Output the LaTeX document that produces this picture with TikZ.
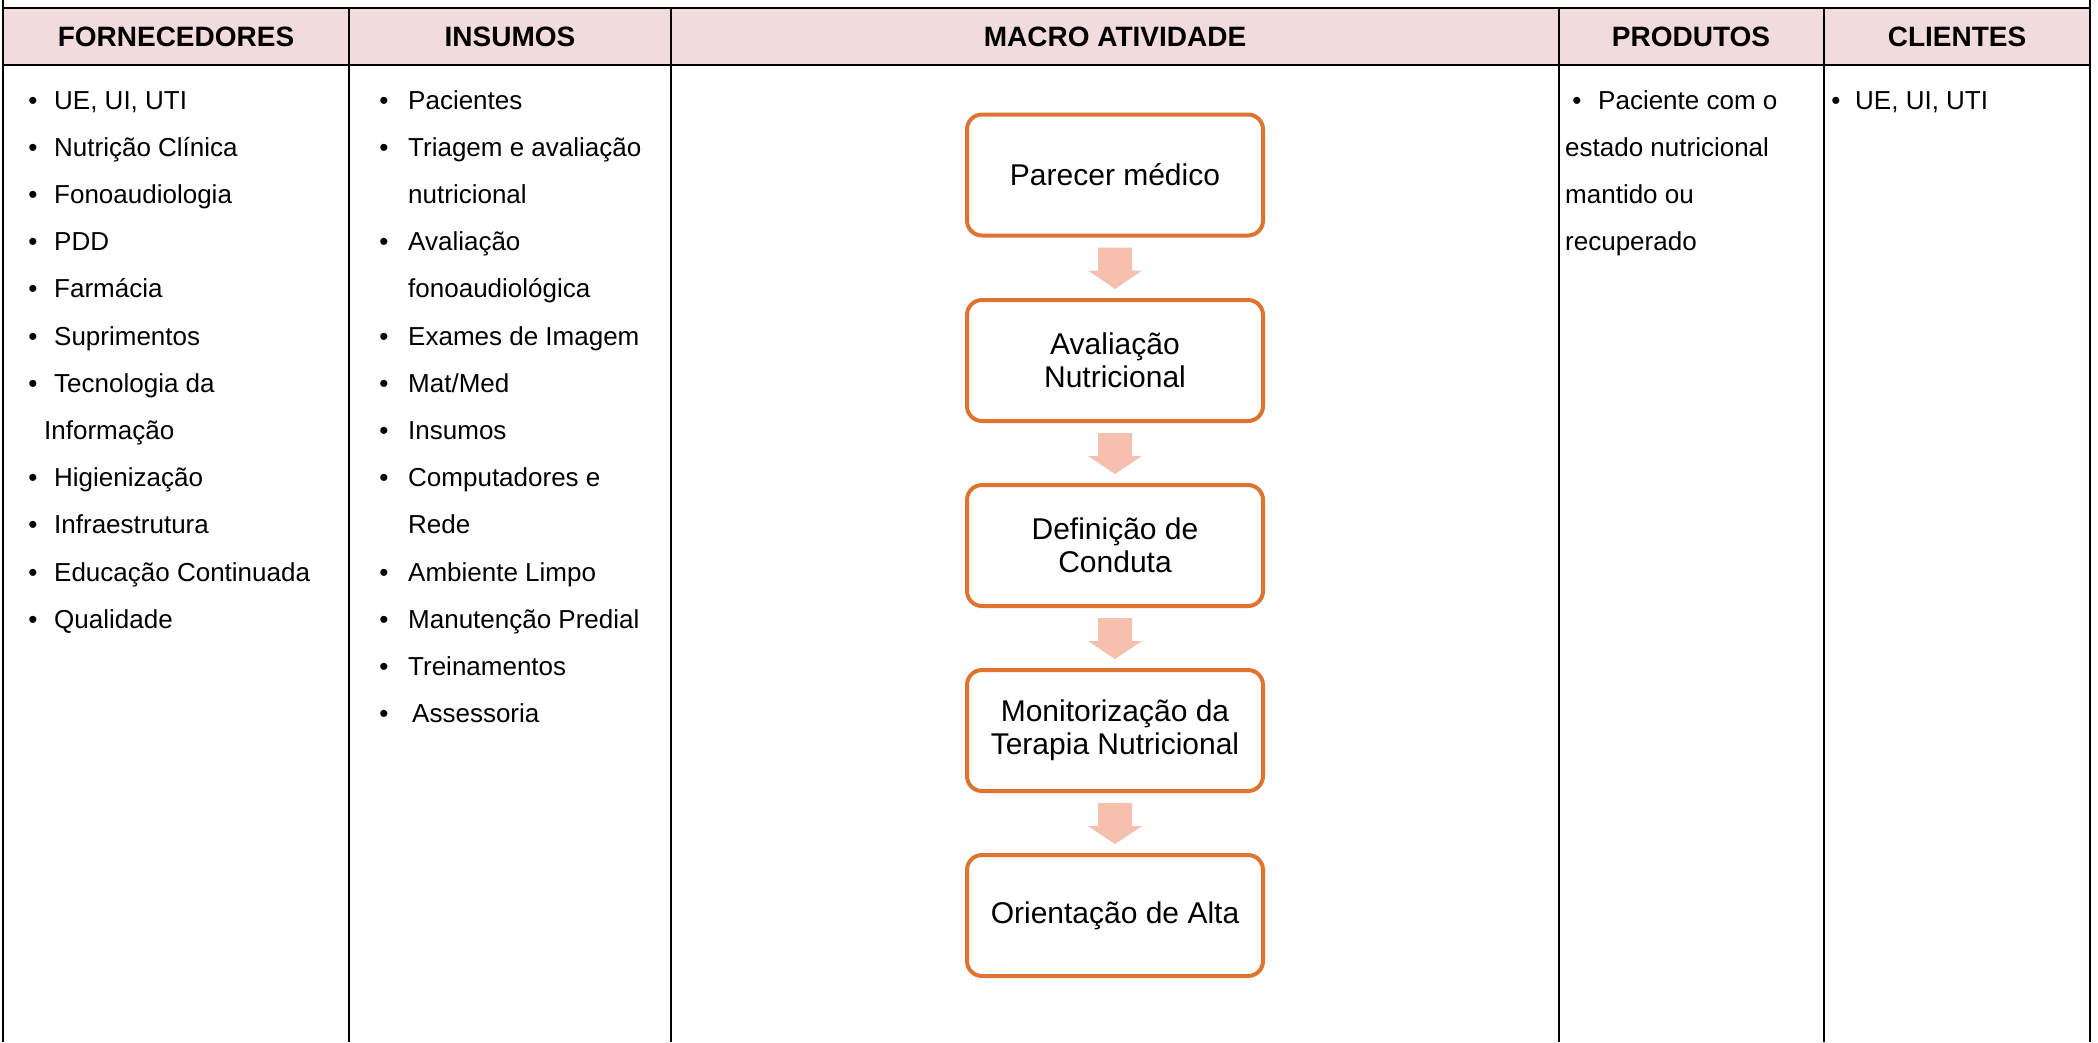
\documentclass[tikz,border=0pt]{standalone}
\usepackage{fontspec}
\setmainfont{Liberation Sans}
\usetikzlibrary{calc}
\definecolor{hdrpink}{RGB}{242,219,221}
\definecolor{boxorange}{RGB}{222,116,48}
\definecolor{arrowfill}{RGB}{245,192,174}
\newcommand\flowarrow[2]{%
  \fill[arrowfill] ($(#1.south)+(-17,10)$) -- ($(#1.south)+(17,10)$) -- ($(#1.south)+(17,33)$) -- ($(#1.south)+(27,33)$) -- ($(#2.north)+(0,-9)$) -- ($(#1.south)+(-27,33)$) -- ($(#1.south)+(-17,33)$) -- cycle;}
\begin{document}
\begin{tikzpicture}[x=1pt,y=-1pt,
  tline/.style={line width=2pt,black},
  oline/.style={line width=2.6pt,black},
  hdr/.style={font=\fontsize{28}{32}\selectfont\bfseries, inner sep=0pt, anchor=center},
  itm/.style={font=\fontsize{26}{30}\selectfont, inner sep=0pt, anchor=base west},
  bul/.style={font=\fontsize{26}{30}\selectfont, inner sep=0pt, anchor=base},
  flowbox/.style={draw=boxorange, line width=4pt, rounded corners=15pt, fill=white,
    minimum width=296pt, minimum height=121pt, align=center, inner sep=2pt,
    font=\fontsize{30}{33}\selectfont}
]
\useasboundingbox (0,0) rectangle (2098,1042);
\fill[white] (0,0) rectangle (2098,1042);
% header band
\fill[hdrpink] (3,8) rectangle (2090,65);
% table lines
\draw[tline] (3,8) -- (2090,8);
\draw[tline] (3,65) -- (2090,65);
\draw[oline] (3,0) -- (3,1042);
\draw[oline] (2090,0) -- (2090,1042);
\draw[tline] (349,8) -- (349,1042);
\draw[tline] (671,8) -- (671,1042);
\draw[tline] (1559,8) -- (1559,1042);
\draw[tline] (1824,8) -- (1824,1042);
% headers
\node[hdr] (hF) at (176,37) {FORNECEDORES};
\node[hdr] (hI) at (510,37) {INSUMOS};
\node[hdr] (hM) at (1115,37) {MACRO ATIVIDADE};
\node[hdr] (hP) at (1691,37) {PRODUTOS};
\node[hdr] (hC) at (1957,37) {CLIENTES};
% Fornecedores
\foreach \t [count=\i from 0] in {{UE, UI, UTI},{Nutrição Clínica},{Fonoaudiologia},{PDD},{Farmácia},{Suprimentos},{Tecnologia da},{},{Higienização},{Infraestrutura},{Educação Continuada},{Qualidade}}{
  \ifnum\i=7\relax
    \node[itm] (f\i) at (44,{109+47.2*\i}) {Informação};
  \else
    \node[bul] (fb\i) at (33,{109+47.2*\i}) {•};
    \node[itm] (f\i) at (54,{109+47.2*\i}) {\t};
  \fi
}
% Insumos
\foreach \t/\b [count=\i from 0] in {Pacientes/1,{Triagem e avaliação}/1,nutricional/0,Avaliação/1,fonoaudiológica/0,{Exames de Imagem}/1,Mat\slash Med/1,Insumos/1,{Computadores e}/1,Rede/0,{Ambiente Limpo}/1,{Manutenção Predial}/1,Treinamentos/1,Assessoria/2}{
  \ifnum\b>0\relax
    \node[bul] (ib\i) at (384,{109+47.2*\i}) {•};
  \fi
  \ifnum\b=2\relax
    \node[itm] (i\i) at (412,{109+47.2*\i}) {\t};
  \else
    \node[itm] (i\i) at (408,{109+47.2*\i}) {\t};
  \fi
}
% Produtos
\node[bul] (pb0) at (1577,109) {•};
\node[itm] (p0) at (1598,109) {Paciente com o};
\node[itm] (p1) at (1565,{109+47.2}) {estado nutricional};
\node[itm] (p2) at (1565,{109+2*47.2}) {mantido ou};
\node[itm] (p3) at (1565,{109+3*47.2}) {recuperado};
% Clientes
\node[bul] (cb0) at (1836,109) {•};
\node[itm] (c0) at (1855,109) {UE, UI, UTI};
% flow
\node[flowbox] (b1) at (1115,175) {Parecer médico};
\node[flowbox] (b2) at (1115,360.5) {Avaliação\\Nutricional};
\node[flowbox] (b3) at (1115,545.5) {Definição de\\Conduta};
\node[flowbox] (b4) at (1115,730.5) {Monitorização da\\Terapia Nutricional};
\node[flowbox] (b5) at (1115,915.5) {Orientação de Alta};
\flowarrow{b1}{b2}
\flowarrow{b2}{b3}
\flowarrow{b3}{b4}
\flowarrow{b4}{b5}
\end{tikzpicture}
\end{document}
